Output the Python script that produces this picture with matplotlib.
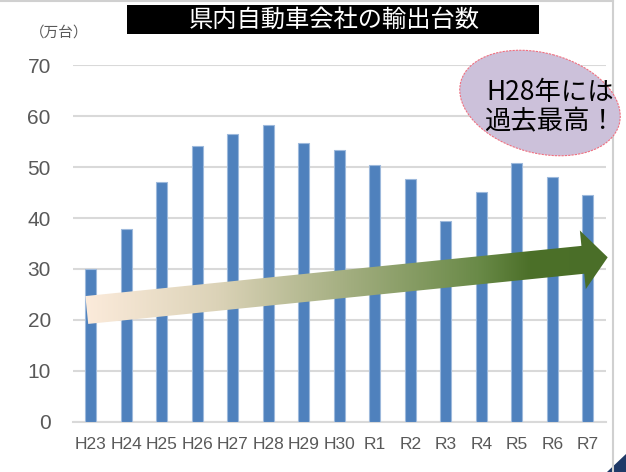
import numpy as np
import matplotlib.pyplot as plt
from matplotlib.patches import Rectangle, Ellipse, Polygon
from matplotlib.colors import LinearSegmentedColormap

years = ['H23', 'H24', 'H25', 'H26', 'H27', 'H28', 'H29', 'H30',
         'R1', 'R2', 'R3', 'R4', 'R5', 'R6', 'R7']
exports = [29.9, 37.9, 47.1, 54.1, 56.6, 58.2, 54.8, 53.3,
           50.5, 47.6, 39.5, 45.2, 50.9, 48.1, 44.6]
y_ticks = [0, 10, 20, 30, 40, 50, 60, 70]

title = '県内自動車会社の輸出台数'
unit_label = '（万台）'
note = 'H28年には\n過去最高！'

W, H = 626, 472
plt.rcParams['font.family'] = ['Liberation Sans', 'Noto Sans CJK JP', 'DejaVu Sans']
cjk = ['Noto Sans CJK JP', 'DejaVu Sans']

fig = plt.figure(figsize=(W / 100, H / 100), dpi=100)
fig.patch.set_facecolor('white')

# main chart
ax = fig.add_axes([73 / W, 1 - 421.7 / H, (605.5 - 73) / W, (421.7 - 65.3) / H])
x = np.arange(len(years))
ax.bar(x, exports, width=0.31, color='#4F81BD', edgecolor='#9DB9DC',
       linewidth=0.8, zorder=3)
ax.set_xlim(-0.5, len(years) - 0.5)
ax.set_ylim(0, 70)
ax.set_yticks(y_ticks)
ax.set_xticks(x)
ax.set_xticklabels(years)
ax.grid(axis='y', color='#D9D9D9', linewidth=1.5, zorder=0)
for s in ['top', 'right', 'left']:
    ax.spines[s].set_visible(False)
ax.spines['bottom'].set_color('#D9D9D9')
ax.spines['bottom'].set_linewidth(1.5)
ax.tick_params(axis='y', length=0, pad=16, labelsize=15, labelcolor='#595959')
ax.tick_params(axis='x', length=0, pad=11, labelsize=12.5, labelcolor='#595959')

# overlay in pixel coordinates for the decorations
ov = fig.add_axes([0, 0, 1, 1], zorder=5)
ov.set_facecolor('none')
ov.axis('off')

# frame
ov.plot([0, 612.5], [1, 1], color='#D0D0D0', lw=1.5)
ov.plot([612.5, 612.5], [0, H], color='#D0D0D0', lw=1.5)
ov.add_patch(Polygon([(607, H), (W, 454), (W, H)], closed=True,
                     facecolor='#1F3A68', edgecolor='none'))

# title box
ov.add_patch(Rectangle((127, 5), 412, 29, facecolor='black', edgecolor='none'))
ov.text(334, 20, title, color='white', fontsize=17.5,
        ha='center', va='center', family=cjk)
ov.text(59, 33, unit_label, color='#595959', fontsize=10.5,
        ha='center', va='center', family=cjk)

# gradient arrow
tail = np.array([86.8, 310.0])
tip = np.array([607.7, 257.3])
d = tip - tail
u = d / np.linalg.norm(d)
n = np.array([-u[1], u[0]])
if n[1] < 0:
    n = -n
hw_shaft, hw_head, head_len = 14, 29.5, 25
base = tip - u * head_len
pts = [tail - n * hw_shaft, base - n * hw_shaft, base - n * hw_head, tip,
       base + n * hw_head, base + n * hw_shaft, tail + n * hw_shaft]
arrow = Polygon(pts, closed=True, facecolor='none', edgecolor='none')
ov.add_patch(arrow)
cmap = LinearSegmentedColormap.from_list('arr', [
    (0.0, '#FCEBDB'), (0.25, '#DCD3B8'), (0.5, '#A3AE80'),
    (0.75, '#6A8A48'), (0.85, '#4C7029'), (1.0, '#4A6E28')])
grad = np.linspace(0, 1, 256).reshape(1, -1)
img = ov.imshow(grad, cmap=cmap, aspect='auto',
                extent=(tail[0] - 2, tip[0] + 1, 330, 225), zorder=4)
img.set_clip_path(arrow)

# callout ellipse
ov.add_patch(Ellipse((540, 103), 164, 100, angle=15, facecolor='#CCC1DA',
                     edgecolor='#F07080', linewidth=0.8, linestyle=(0, (2, 1)),
                     zorder=6))
ov.text(550, 107, note, fontsize=19, ha='center', va='center',
        linespacing=1.1, family=cjk, zorder=7)

ov.set_xlim(0, W)
ov.set_ylim(H, 0)

fig.savefig('out.png', dpi=100)
